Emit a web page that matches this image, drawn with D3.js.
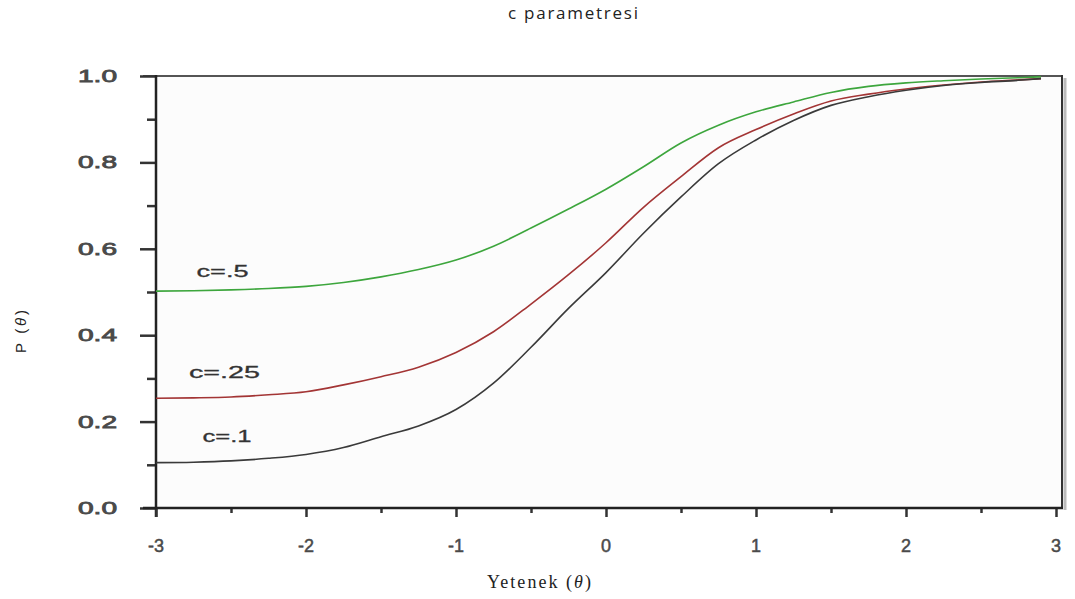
<!DOCTYPE html>
<html>
<head>
<meta charset="utf-8">
<script src="https://cdn.jsdelivr.net/npm/d3@7"></script>
<style>
  html, body { margin: 0; padding: 0; background: #ffffff; }
  svg { display: block; }
</style>
</head>
<body>
<svg id="chart" width="1075" height="599"></svg>
<script>
// ---- data ----
const theta = [-3, -2.75, -2.5, -2.25, -2, -1.75, -1.5, -1.25, -1, -0.75, -0.5, -0.25, 0, 0.25, 0.5, 0.75, 1, 1.25, 1.5, 1.75, 2, 2.25, 2.5, 2.75, 2.9];
const pC50 = [0.502, 0.503, 0.505, 0.508, 0.513, 0.522, 0.535, 0.552, 0.574, 0.606, 0.648, 0.692, 0.738, 0.790, 0.845, 0.886, 0.917, 0.940, 0.962, 0.976, 0.984, 0.989, 0.993, 0.996, 0.998];
const pC25 = [0.254, 0.255, 0.257, 0.262, 0.269, 0.285, 0.304, 0.326, 0.360, 0.408, 0.472, 0.540, 0.614, 0.696, 0.767, 0.834, 0.876, 0.912, 0.942, 0.958, 0.970, 0.979, 0.986, 0.991, 0.994];
const pC10 = [0.105, 0.106, 0.109, 0.115, 0.124, 0.140, 0.165, 0.190, 0.228, 0.289, 0.372, 0.462, 0.545, 0.636, 0.720, 0.797, 0.852, 0.897, 0.932, 0.952, 0.967, 0.978, 0.985, 0.990, 0.994];
const seriesNames = ["c=.5", "c=.25", "c=.1"];
const labelTheta = [-2.73, -2.78, -2.69];
const labelP = [0.535, 0.3, 0.152];
const xTicks = [-3, -2, -1, 0, 1, 2, 3];
const xTickLabels = ["-3", "-2", "-1", "0", "1", "2", "3"];
const xMinorTicks = [-2.5, -1.5, -0.5, 0.5, 1.5, 2.5];
const yTicks = [0, 0.2, 0.4, 0.6, 0.8, 1.0];
const yTickLabels = ["0.0", "0.2", "0.4", "0.6", "0.8", "1.0"];
const yMinorTicks = [0.1, 0.3, 0.5, 0.7, 0.9];
const titleText = "c parametresi";
const xTitle = "Yetenek";
const yTitle = "P";

const colors = ["#3da63d", "#a33535", "#3a3a3a"];
const seriesValues = [pC50, pC25, pC10];
const labelWidths = [52, 71, 49];

// ---- layout ----
const svg = d3.select("#chart");
const mLeft = 156, mRight = 1056, mTop = 76, mBottom = 508;
const x = d3.scaleLinear().domain([-3, 3]).range([mLeft, mRight]);
const y = d3.scaleLinear().domain([0, 1]).range([mBottom, mTop]);

// plot background
svg.append("rect")
  .attr("x", x(-3)).attr("y", y(1))
  .attr("width", 1062 - x(-3)).attr("height", y(0) - y(1))
  .attr("fill", "#fcfcfc");

// title
svg.append("text")
  .attr("x", 508).attr("y", 19)
  .attr("font-family", "'Open Sans', sans-serif")
  .attr("font-size", 17)
  .attr("textLength", 130)
  .attr("lengthAdjust", "spacing")
  .attr("fill", "#222")
  .text(titleText);

// top frame line & right border
svg.append("line")
  .attr("x1", 143).attr("x2", 1063).attr("y1", y(1)).attr("y2", y(1))
  .attr("stroke", "#555").attr("stroke-width", 2);
svg.append("line")
  .attr("x1", 1065).attr("x2", 1065).attr("y1", y(1) + 2).attr("y2", y(0) + 2)
  .attr("stroke", "#bbb").attr("stroke-width", 3);
svg.append("line")
  .attr("x1", 1062).attr("x2", 1062).attr("y1", y(1) - 1).attr("y2", y(0))
  .attr("stroke", "#333").attr("stroke-width", 2);

// y axis (major + minor ticks)
const yAxisMajor = d3.axisLeft(y).tickValues(yTicks).tickSize(16).tickFormat("");
const yAxisMinor = d3.axisLeft(y).tickValues(yMinorTicks).tickSize(9).tickFormat("");
const gyMaj = svg.append("g").attr("transform", `translate(${mLeft},0)`).call(yAxisMajor);
const gyMin = svg.append("g").attr("transform", `translate(${mLeft},0)`).call(yAxisMinor);
[gyMaj, gyMin].forEach(g => {
  g.select(".domain").remove();
  g.selectAll(".tick line").attr("stroke", "#333").attr("stroke-width", 2.5);
});
svg.append("line")
  .attr("x1", mLeft).attr("x2", mLeft).attr("y1", y(1) - 1).attr("y2", y(0) + 9)
  .attr("stroke", "#222").attr("stroke-width", 2.5);

// y tick labels (wide)
svg.append("g").selectAll("text").data(yTicks).join("text")
  .attr("x", 117).attr("y", d => y(d) + 6)
  .attr("text-anchor", "end")
  .attr("font-family", "'Liberation Sans', Arial, sans-serif")
  .attr("font-size", 17)
  .attr("fill", "#4a4a4a")
  .attr("stroke", "#4a4a4a")
  .attr("stroke-width", 0.8)
  .attr("textLength", 39)
  .attr("lengthAdjust", "spacingAndGlyphs")
  .text((d, i) => yTickLabels[i]);

// x axis
const xAxisMajor = d3.axisBottom(x).tickValues(xTicks).tickSize(9).tickFormat("");
const xAxisMinor = d3.axisBottom(x).tickValues(xMinorTicks).tickSize(5).tickFormat("");
const gxMaj = svg.append("g").attr("transform", `translate(0,${mBottom})`).call(xAxisMajor);
const gxMin = svg.append("g").attr("transform", `translate(0,${mBottom})`).call(xAxisMinor);
[gxMaj, gxMin].forEach(g => {
  g.select(".domain").remove();
  g.selectAll(".tick line").attr("stroke", "#333").attr("stroke-width", 2.5);
});
svg.append("line")
  .attr("x1", 143).attr("x2", 1063).attr("y1", mBottom).attr("y2", mBottom)
  .attr("stroke", "#222").attr("stroke-width", 2.5);

svg.append("g").selectAll("text").data(xTicks).join("text")
  .attr("x", d => x(d)).attr("y", 552)
  .attr("text-anchor", "middle")
  .attr("font-family", "'Liberation Sans', Arial, sans-serif")
  .attr("font-size", 18)
  .attr("fill", "#4a4a4a")
  .attr("stroke", "#4a4a4a")
  .attr("stroke-width", 0.5)
  .text((d, i) => xTickLabels[i]);

// curves
const line = d3.line()
  .x((d, i) => x(theta[i]))
  .y(d => y(d))
  .curve(d3.curveMonotoneX);
svg.append("g").selectAll("path").data(seriesValues).join("path")
  .attr("d", d => line(d))
  .attr("fill", "none")
  .attr("stroke", (d, i) => colors[i])
  .attr("stroke-width", 1.6);

// series labels
svg.append("g").selectAll("text").data(seriesNames).join("text")
  .attr("x", (d, i) => x(labelTheta[i]))
  .attr("y", (d, i) => y(labelP[i]))
  .attr("font-family", "'Liberation Sans', Arial, sans-serif")
  .attr("font-size", 16)
  .attr("fill", "#333")
  .attr("stroke", "#333")
  .attr("stroke-width", 0.3)
  .attr("textLength", (d, i) => labelWidths[i])
  .attr("lengthAdjust", "spacingAndGlyphs")
  .text(d => d);

// axis titles
const xt = svg.append("text")
  .attr("x", 487).attr("y", 588)
  .attr("font-family", "'Liberation Serif', 'DejaVu Serif', serif")
  .attr("font-size", 18)
  .attr("textLength", 104)
  .attr("lengthAdjust", "spacing")
  .attr("fill", "#222");
xt.append("tspan").text(xTitle + " (");
xt.append("tspan").attr("font-style", "italic").text("θ");
xt.append("tspan").text(")");

const yt = svg.append("text")
  .attr("transform", "translate(26,353) rotate(-90)")
  .attr("font-family", "'Liberation Sans', Arial, sans-serif")
  .attr("font-size", 15)
  .attr("textLength", 43)
  .attr("lengthAdjust", "spacing")
  .attr("fill", "#222");
yt.append("tspan").text(yTitle + " (");
yt.append("tspan").attr("font-style", "italic").text("θ");
yt.append("tspan").text(")");
</script>
</body>
</html>
